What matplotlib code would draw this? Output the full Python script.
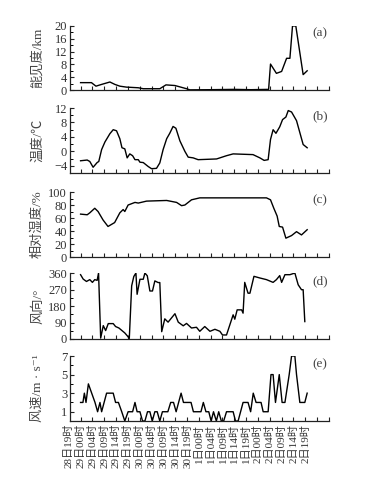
import numpy as np
import matplotlib
matplotlib.use('Agg')
import matplotlib.pyplot as plt
import matplotlib.transforms as mtransforms
from matplotlib.ticker import MultipleLocator

plt.rcParams['font.family'] = ['Liberation Serif', 'Noto Sans CJK SC', 'DejaVu Sans']

# hours since 28日19时, ticks every 5 h
time_labels = ['28日19时', '29日00时', '29日04时', '29日09时', '29日14时', '29日19时',
               '30日00时', '30日04时', '30日09时', '30日14时', '30日19时',
               '1日00时', '1日04时', '1日09时', '1日14时', '1日19时',
               '2日00时', '2日04时', '2日09时', '2日14时', '2日19时']

# (a) 能见度
vis_h = [0, 4.6, 6.5, 8.9, 12.4, 14.5, 16.6, 19.4, 24.4, 26.5,
         33.5, 36.1, 39.9, 44.8, 46.2, 55, 65, 72, 79.5, 80.3,
         82.8, 85.0, 87.1, 88.5, 89.6, 91.0, 94.1, 95.8]
vis_v = [2.3, 2.3, 1.2, 1.75, 2.5, 1.75, 1.2, 0.9, 0.7, 0.4,
         0.4, 1.6, 1.4, 0.4, 0.05, 0.1, 0.2, 0.1, 0.2, 8.1,
         5.2, 5.8, 9.9, 9.9, 20, 20, 4.8, 6.0]

# (b) 温度
tem_h = [0, 2.8, 3.9, 5.3, 7.0, 7.7, 8.9, 10.3, 12.4, 13.8,
         15.2, 16.6, 17.5, 18.7, 19.7, 20.8, 22.0, 23.0, 24.4, 25.1,
         26.5, 28.6, 30.0, 32.1, 33.5, 34.9, 36.4, 37.7, 39.1, 40.3,
         42.0, 44.1, 45.5, 47.6, 49.7, 57.5, 61.7, 64.5, 72.9, 75.8,
         77.6, 79.3, 80.3, 81.4, 82.6, 84.2, 85.4, 86.8, 87.8, 89.2,
         91.3, 92.7, 94.1, 95.8]
tem_v = [-2.6, -2.4, -2.8, -4.4, -3.1, -2.8, 0.5, 2.6, 4.9, 6.0,
         5.7, 3.5, 1.0, 0.7, -1.8, -0.7, -1.2, -2.3, -2.3, -3.0,
         -3.1, -4.2, -4.8, -4.7, -3.2, 0.5, 3.5, 5.0, 6.9, 6.4,
         2.9, 0, -1.6, -1.8, -2.3, -2.1, -1.2, -0.7, -0.9, -1.8,
         -2.5, -2.3, 3.3, 6.0, 5.0, 6.8, 8.8, 9.5, 11.3, 10.9,
         8.5, 5.2, 1.9, 1.0]

# (c) 相对湿度
rh_h = [0, 2.8, 3.9, 6.0, 7.4, 9.5, 11.6, 13.0, 14.4, 16.6,
        18.0, 18.7, 20.1, 23.0, 24.4, 27.9, 36.4, 40.6, 42.7, 44.1,
        46.9, 50.4, 64.5, 78.6, 80.3, 81.7, 83.1, 84.0, 85.4, 86.8,
        89.2, 91.3, 93.4, 95.8]
rh_v = [66, 65, 68, 75, 70, 57, 47, 50, 53, 68,
        73, 70, 80, 84, 83, 86, 87, 84, 79, 80,
        88, 91, 91, 91, 88, 75, 63, 47, 46, 29,
        33, 39, 34, 42]

# (d) 风向
wd_h = [0, 1.1, 2.5, 3.9, 5.0, 6.0, 7.0, 7.6, 8.5, 9.6,
        10.6, 11.7, 13.8, 14.8, 16.2, 18.7, 19.9, 20.6, 21.6, 22.5,
        23.4, 23.9, 25.1, 26.5, 27.2, 28.2, 29.3, 30.4, 31.4, 32.8,
        33.5, 34.3, 35.6, 37.0, 39.9, 41.3, 43.4, 44.8, 46.9, 49.0,
        50.4, 52.5, 54.7, 56.8, 58.9, 60.0, 61.7, 63.1, 64.5, 65.2,
        66.2, 68.1, 68.7, 69.4, 70.8, 71.6, 73.3, 75.8, 78.6, 81.4,
        82.8, 84.2, 85.0, 86.4, 88.5, 90.6, 92.0, 93.4, 94.1, 94.8]
wd_v = [351, 327, 314, 324, 309, 324, 320, 360, 5, 73,
        46, 84, 84, 68, 60, 33, 15, 3, 290, 341,
        360, 244, 326, 326, 360, 345, 262, 262, 317, 308,
        308, 40, 110, 92, 138, 92, 72, 85, 60, 64,
        42, 68, 42, 53, 42, 22, 22, 77, 132, 108,
        159, 159, 141, 309, 250, 250, 342, 333, 324, 309,
        324, 346, 309, 351, 351, 360, 296, 269, 269, 95]

# (e) 风速
ws_h = [0, 1, 1.6, 2.3, 3.3, 4.7, 6.1, 7.2, 8.2, 8.9,
        11.0, 13.8, 14.8, 16.0, 17.4, 18.7, 20.1, 22.0, 23.0, 23.9,
        25.1, 26.2, 27.2, 28.3, 29.3, 30.3, 31.4, 32.4, 33.5, 34.6,
        36.9, 38.1, 39.3, 40.4, 42.5, 43.5, 46.7, 47.7, 50.9, 51.9,
        53.0, 54.2, 55.2, 56.2, 57.4, 58.4, 59.5, 60.5, 61.7, 64.5,
        65.5, 66.6, 68.7, 70.8, 71.9, 73.0, 74.2, 76.3, 77.2, 79.3,
        80.5, 81.4, 82.4, 84.0, 85.2, 86.4, 88.2, 89.2, 90.6, 91.3,
        92.7, 94.8, 95.8]
ws_v = [2, 2, 3, 2, 4, 3, 2, 1, 2, 1,
        3, 3, 2, 2, 1, 0, 1, 1, 2, 1,
        1, 0, 0, 1, 1, 0, 1, 1, 0, 1,
        1, 2, 2, 1, 3, 2, 2, 1, 1, 2,
        1, 1, 0, 1, 0, 1, 0, 0, 1, 1,
        0, 0, 2, 2, 1, 3, 2, 2, 1, 1,
        5, 5, 2, 5, 2, 2, 5, 7, 7, 5,
        2, 2, 3]

panels = [
    (vis_h, vis_v, '能见度/km', (0, 20), 4, 2, '(a)'),
    (tem_h, tem_v, '温度/℃', (-6, 12), 4, 2, '(b)'),
    (rh_h, rh_v, '相对湿度/%', (0, 100), 20, 10, '(c)'),
    (wd_h, wd_v, '风向/°', (0, 360), 90, 45, '(d)'),
    (ws_h, ws_v, '风速/m · s⁻¹', (0, 7), 2, 1, '(e)'),
]

fig = plt.figure(figsize=(3.70, 4.78), dpi=100)
bottoms = [0.8117, 0.638, 0.4623, 0.2908, 0.1192]
heights = [0.134, 0.136, 0.136, 0.138, 0.136]
txt = '#333333'

for i, (h, v, lab, ylim, major, minor, tag) in enumerate(panels):
    ax = fig.add_axes([0.189, bottoms[i], 0.700, heights[i]])
    ax.plot(h, v, color='black', lw=1.0)
    ax.set_xlim(-4.5, 105)
    ax.set_ylim(*ylim)
    ax.spines['top'].set_visible(False)
    ax.spines['right'].set_visible(False)
    for s in ('left', 'bottom'):
        ax.spines[s].set_linewidth(0.9)
        ax.spines[s].set_color('#222222')
    if tag == '(e)':
        ax.set_yticks([1, 3, 5, 7])
    elif tag == '(b)':
        ax.set_yticks(np.arange(-4, 13, 4))
    else:
        ax.yaxis.set_major_locator(MultipleLocator(major))
    ax.yaxis.set_minor_locator(MultipleLocator(minor))
    ax.set_xticks(np.arange(0, 106, 5))
    ax.tick_params(direction='in', length=3, width=0.8, labelsize=9,
                   colors='#222222', labelcolor=txt, pad=2)
    ax.tick_params(which='minor', direction='in', length=2, width=0.7)
    ax.set_ylabel(lab, fontsize=9.5, color='#444444')
    ax.yaxis.set_label_coords(-0.10, 0.5)
    ax.text(0.965, 0.88, tag, transform=ax.transAxes, ha='center',
            va='center', fontsize=9.5, color='#444444')
    if tag == '(e)':
        ax.set_xticklabels(time_labels + [''], rotation=90, fontsize=8)
        shift = mtransforms.ScaledTranslation(-0.1183, 0, fig.dpi_scale_trans)
        for t in ax.get_xticklabels():
            t.set_transform(t.get_transform() + shift)
    else:
        ax.set_xticklabels([])

fig.savefig('out.png', dpi=100)
